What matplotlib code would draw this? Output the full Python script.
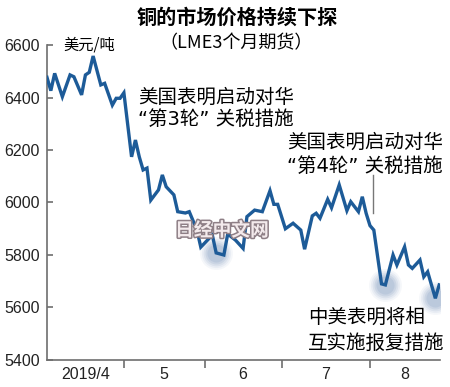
import matplotlib
matplotlib.use("Agg")
import matplotlib.pyplot as plt
import matplotlib.patheffects as pe
import numpy as np

# LME 3-month copper, trading-day index from 2019/4/1, USD/t
days = [0, 1, 2, 4, 6, 7, 9, 10, 11, 12, 14, 15, 17, 18, 19, 20, 22, 23,
        24, 25, 26, 27, 29, 30, 31, 33, 34, 36, 37, 39, 40, 43, 44, 46, 47,
        49, 51, 52, 54, 56, 58, 59, 60, 62, 64, 66, 67, 69, 70, 71, 73, 74,
        76, 78, 79, 81, 82, 83, 84, 85, 87, 88, 90, 91, 93, 94, 95, 97, 98,
        99, 101, 102]
price = [6477, 6426, 6492, 6403, 6486, 6479, 6410, 6486, 6496, 6558, 6448,
         6454, 6371, 6397, 6397, 6418, 6174, 6238, 6174, 6124, 6131, 6009,
         6048, 6105, 6060, 6029, 5965, 5960, 5965, 5895, 5830, 5876, 5808,
         5800, 5880, 5857, 5825, 5946, 5971, 5965, 6045, 5993, 5993, 5900,
         5921, 5895, 5822, 5949, 5959, 5940, 6012, 5980, 6067, 5969, 6003,
         5965, 6022, 5959, 5912, 5895, 5690, 5686, 5800, 5762, 5831, 5762,
         5749, 5781, 5717, 5736, 5635, 5686]

month_edges = [20, 41, 61, 84]
month_mid = [10, 30.5, 51, 72.5, 93.1]
month_labels = ["2019/4", "5", "6", "7", "8"]
highlight_days = [44, 88, 101]

cjk = ["Noto Sans CJK SC", "DejaVu Sans"]
quote_first = ["DejaVu Sans", "Noto Sans CJK SC"]

fig = plt.figure(figsize=(4.5, 3.87), dpi=100)
ax = fig.add_axes([0.1044, 0.0698, 0.8733, 0.8139])

# blurred highlight circles behind the line
hx = [days[days.index(d)] for d in highlight_days]
hy = [price[days.index(d)] for d in highlight_days]
for s, a in zip([560, 440, 340, 250, 170], [0.10, 0.14, 0.2, 0.28, 0.38]):
    ax.scatter(hx, hy, s=s, color="#a3b6d0", alpha=a, lw=0, zorder=1)

ax.plot(days, price, color="#1d5b98", lw=2.4, solid_joinstyle="miter", zorder=3)

ax.set_xlim(0, 102.2)
ax.set_ylim(5400, 6600)
ax.set_yticks([5400, 5600, 5800, 6000, 6200, 6400, 6600])
ax.set_xticks(month_edges)
ax.set_xticklabels([])
ax.set_xticks(month_mid, minor=True)
ax.set_xticklabels(month_labels, minor=True)

for s in ["top", "right"]:
    ax.spines[s].set_visible(False)
for s in ["left", "bottom"]:
    ax.spines[s].set_color("#6e6e6e")
    ax.spines[s].set_linewidth(1.2)

ax.tick_params(axis="y", direction="in", length=4.5, width=1.2, color="#6e6e6e",
               pad=5, labelsize=11.5)
ax.tick_params(axis="x", which="major", direction="out", length=5.8, width=1.2,
               color="#6e6e6e")
ax.tick_params(axis="x", which="minor", length=0, pad=5, labelsize=11.5)
for lab in ax.get_yticklabels() + ax.get_xticklabels(minor=True):
    lab.set_fontfamily("Liberation Sans")
    lab.set_color("#222222")

fig.text(0.527, 0.956, "铜的市场价格持续下探", family=cjk, fontsize=14.5,
         fontweight="bold", ha="center", va="center")
fig.text(0.525, 0.889, "（LME3个月期货）", family=cjk, fontsize=13,
         ha="center", va="center")
fig.text(0.14, 0.884, "美元/吨", family=cjk, fontsize=11, ha="left", va="center")

# annotations, one text per line
ax.text(23.7, 6402, "美国表明启动对华", family=cjk, fontsize=14, ha="left", va="center")
ax.text(23.7, 6318, "“第3轮” 关税措施", family=quote_first, fontsize=14,
        ha="left", va="center")
ax.text(62.4, 6230, "美国表明启动对华", family=cjk, fontsize=14, ha="left", va="center")
ax.text(62.4, 6139, "“第4轮” 关税措施", family=quote_first, fontsize=14,
        ha="left", va="center")
ax.plot([84.7, 84.7], [5960, 6105], color="#777777", lw=1, zorder=2)
ax.text(67.9, 5564, "中美表明将相", family=cjk, fontsize=14, ha="left", va="center")
ax.text(67.9, 5465, "互实施报复措施", family=cjk, fontsize=14, ha="left", va="center")

# watermark
wm = ax.text(45.5, 5893, "日经中文网", family=cjk, fontsize=13.5, fontweight="bold",
             color="#f3eaec", ha="center", va="center", zorder=4)
wm.set_path_effects([pe.Stroke(linewidth=2.2, foreground="#8e7f86"), pe.Normal()])

fig.savefig("out.png", dpi=100, facecolor="white")
